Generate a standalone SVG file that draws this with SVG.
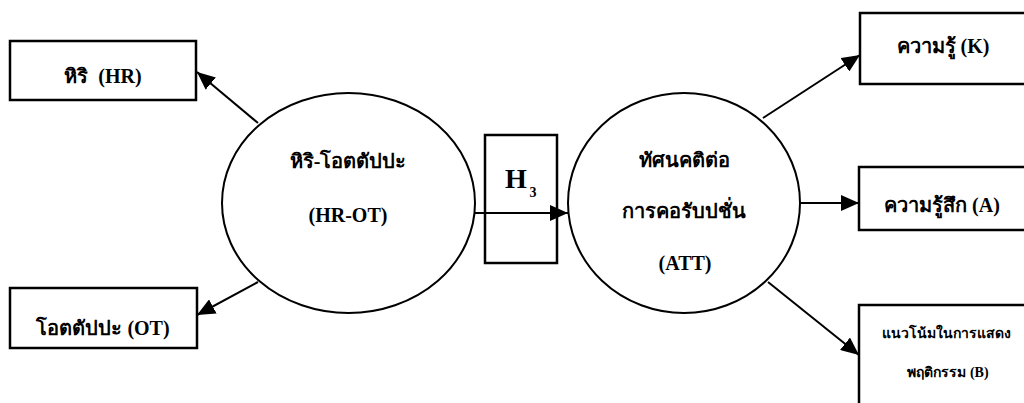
<svg xmlns="http://www.w3.org/2000/svg" width="1024" height="403" viewBox="0 0 1024 403">
<style>
.box{fill:#fff;stroke:#000;stroke-width:2.5}
.ell{fill:#fff;stroke:#000;stroke-width:2}
text{font-family:'Liberation Serif','Times New Roman',serif;font-weight:bold;font-size:20px;fill:#000;text-anchor:middle}
.s{font-size:14px}
.con{stroke:#000;stroke-width:2;fill:none;marker-end:url(#ah)}
</style>
<defs>
<marker id="ah" markerUnits="userSpaceOnUse" markerWidth="20" markerHeight="16" refX="18" refY="8" orient="auto">
<path d="M0,0 L18,8 L0,16 Z" fill="#000"/>
</marker>
</defs>
<rect width="1024" height="403" fill="#fff"/>
<g id="node-hr"><rect class="box" x="10" y="41" width="186" height="59"/><text x="103" y="83" xml:space="preserve">หิริ  (HR)</text></g>
<g id="node-ot"><rect class="box" x="10" y="288" width="187" height="60"/><text x="103" y="335">โอตตัปปะ (OT)</text></g>
<g id="node-hrot"><ellipse class="ell" cx="348.5" cy="203" rx="126.5" ry="110"/><text x="348" y="168">หิริ-โอตตัปปะ</text><text x="348" y="222">(HR-OT)</text></g>
<g id="node-h3"><rect class="box" x="485" y="135" width="72" height="128"/><text x="516" y="188" style="font-size:28px">H</text><text x="533" y="197" style="font-size:14px">3</text></g>
<g id="node-att"><ellipse class="ell" cx="684" cy="203" rx="116" ry="110"/><text x="684" y="167">ทัศนคติต่อ</text><text x="684" y="218">การคอรับปชั่น</text><text x="685" y="270">(ATT)</text></g>
<g id="node-k"><rect class="box" x="860" y="13" width="170" height="71"/><text x="943" y="53">ความรู้ (K)</text></g>
<g id="node-a"><rect class="box" x="859" y="167" width="170" height="63"/><text x="942" y="212">ความรู้สึก (A)</text></g>
<g id="node-b"><rect class="box" x="859" y="305" width="170" height="110"/><text class="s" x="946" y="338">แนวโน้มในการแสดง</text><text class="s" x="948" y="377">พฤติกรรม (B)</text></g>
<g id="connectors">
<line class="con" x1="258" y1="123" x2="197" y2="72"/>
<line class="con" x1="258" y1="282" x2="197" y2="315"/>
<line class="con" x1="475" y1="213" x2="568" y2="213"/>
<line class="con" x1="763" y1="118" x2="860" y2="55"/>
<line class="con" x1="800" y1="203" x2="859" y2="203"/>
<line class="con" x1="768" y1="282" x2="859" y2="355"/>
</g>
</svg>
